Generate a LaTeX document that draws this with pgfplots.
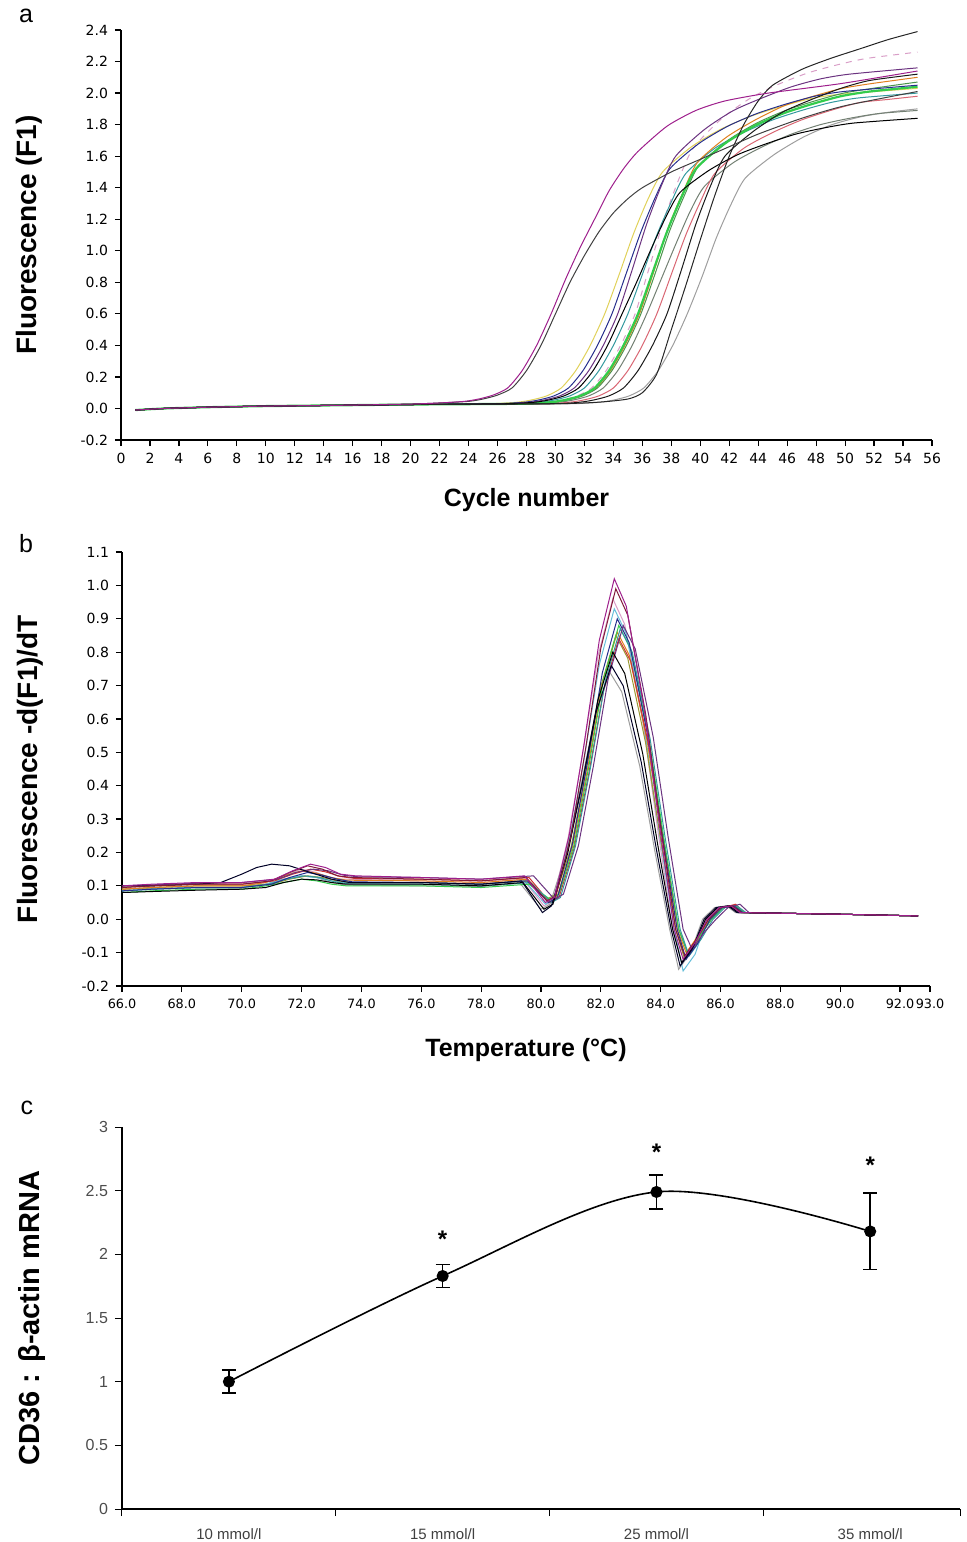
\documentclass[border=0pt]{standalone}
\usepackage{pgfplots}
\pgfplotsset{compat=1.18}
\usepackage{fontspec}
\setmainfont{Liberation Sans}
\newfontfamily\dejavu{DejaVu Sans}
\definecolor{cmag}{rgb}{0.62,0.12,0.55}
\definecolor{cdgray}{rgb}{0.25,0.25,0.25}
\definecolor{cyel}{rgb}{0.88,0.82,0.35}
\definecolor{cdblue}{rgb}{0.15,0.18,0.55}
\definecolor{cpurp}{rgb}{0.42,0.2,0.5}
\definecolor{cteal}{rgb}{0.2,0.6,0.62}
\definecolor{cpink}{rgb}{0.85,0.62,0.78}
\definecolor{cgreen}{rgb}{0.2,0.8,0.3}
\definecolor{cgreen2}{rgb}{0.3,0.58,0.3}
\definecolor{corange}{rgb}{0.88,0.5,0.12}
\definecolor{cgg}{rgb}{0.45,0.5,0.45}
\definecolor{cred}{rgb}{0.85,0.4,0.45}
\definecolor{clgray}{rgb}{0.62,0.62,0.62}
\definecolor{cmaroon}{rgb}{0.5,0.1,0.22}
\definecolor{ccyan}{rgb}{0.4,0.75,0.85}
\definecolor{colive}{rgb}{0.6,0.6,0.2}
\definecolor{cred2}{rgb}{0.8,0.2,0.2}
\pgfplotsset{
  pcr/.style={scale only axis, anchor=south west,
    axis x line=bottom, axis y line=left,
    axis line style={-, line width=0.8pt},
    tick align=outside, major tick length=3pt,
    tick style={black, line width=0.6pt},
    tick label style={font=\dejavu\fontsize{7}{8}\selectfont},
    xlabel style={font=\fontsize{12.5}{14}\selectfont\bfseries, anchor=center},
    ylabel style={font=\fontsize{14}{16}\selectfont\bfseries, anchor=center},
  }
}
\begin{document}
\begin{tikzpicture}[x=1pt,y=1pt]
\path[use as bounding box] (0,0) rectangle (483,-771);
\node[font=\fontsize{12.5}{14}\selectfont] at (13,-8) {a};
\node[font=\fontsize{12.5}{14}\selectfont] at (13,-272) {b};
\node[font=\fontsize{12.5}{14}\selectfont] at (13.5,-554) {c};

% ---------------- panel a ----------------
\begin{axis}[pcr, at={(60.5pt,-220pt)}, width=405.5pt, height=205pt,
  xmin=0, xmax=56, ymin=-0.2, ymax=2.4,
  xtick={0,2,4,6,8,10,12,14,16,18,20,22,24,26,28,30,32,34,36,38,40,42,44,46,48,50,52,54,56},
  xticklabels={0,2,4,6,8,10,12,14,16,18,20,22,24,26,28,30,32,34,36,38,40,42,44,46,48,50,52,54,56},
  ytick={-0.2,0,0.2,0.4,0.6,0.8,1.0,1.2,1.4,1.6,1.8,2.0,2.2,2.4},
  yticklabels={-0.2,0.0,0.2,0.4,0.6,0.8,1.0,1.2,1.4,1.6,1.8,2.0,2.2,2.4},
  xlabel={Cycle number}, xlabel style={at={(axis description cs:0.5,-0.146)}},
  ylabel={Fluorescence (F1)}, ylabel style={at={(axis description cs:-0.1134,0.5)}},
  every axis plot/.append style={line width=0.5pt, smooth, tension=0.4}]
% M14 gray late
\addplot[clgray] coordinates {(1,-0.01)(3,0)(6,0.008)(10,0.015)(15,0.02)(20,0.025)(25,0.028)(31.1,0.03)(33.1,0.04)(34.1,0.055)(35.1,0.08)(36.1,0.13)(37.1,0.24)(38.1,0.40)(39.1,0.60)(40.1,0.83)(41.1,1.08)(42.1,1.29)(43.1,1.46)(45.1,1.61)(47.1,1.72)(49.1,1.80)(51.1,1.85)(53.1,1.88)(55,1.90)};
% M4 pink dashed
\addplot[cpink, dashed] coordinates {(1,-0.01)(3,0)(6,0.008)(10,0.015)(15,0.02)(20,0.025)(27.5,0.03)(29.5,0.04)(30.5,0.055)(31.5,0.08)(32.5,0.13)(33.5,0.24)(34.5,0.40)(35.5,0.60)(36.5,0.90)(37.5,1.20)(38.5,1.45)(39.5,1.65)(41.5,1.84)(43.5,1.97)(45.5,2.06)(47.5,2.13)(49.5,2.18)(51.5,2.22)(55,2.26)};
% M1 yellow
\addplot[cyel] coordinates {(1,-0.01)(3,0)(6,0.008)(10,0.015)(15,0.02)(20,0.025)(25.4,0.03)(27.4,0.04)(28.4,0.055)(29.4,0.08)(30.4,0.13)(31.4,0.24)(32.4,0.40)(33.4,0.60)(34.4,0.85)(35.4,1.11)(36.4,1.33)(37.4,1.50)(39.4,1.66)(41.4,1.77)(43.4,1.85)(45.4,1.91)(47.4,1.96)(49.4,1.99)(55,2.03)};
% M13 gray-green
\addplot[cgg] coordinates {(1,-0.01)(3,0)(6,0.008)(10,0.015)(15,0.02)(20,0.025)(28.3,0.03)(30.3,0.04)(31.3,0.055)(32.3,0.08)(33.3,0.13)(34.3,0.24)(35.3,0.40)(36.3,0.60)(37.3,0.82)(38.3,1.04)(39.3,1.25)(40.3,1.41)(42.3,1.56)(44.3,1.66)(46.3,1.74)(48.3,1.80)(50.3,1.84)(52.3,1.87)(55,1.89)};
% M10 red
\addplot[cred] coordinates {(1,-0.01)(3,0)(6,0.008)(10,0.015)(15,0.02)(20,0.025)(29,0.03)(31,0.04)(32,0.055)(33,0.08)(34,0.13)(35,0.24)(36,0.40)(37,0.60)(38,0.85)(39,1.10)(40,1.31)(41,1.49)(43,1.65)(45,1.75)(47,1.83)(49,1.89)(51,1.94)(53,1.96)(55,1.98)};
% M9 teal
\addplot[cteal] coordinates {(1,-0.01)(3,0)(6,0.008)(10,0.015)(15,0.02)(20,0.025)(27,0.03)(29,0.04)(30,0.055)(31,0.08)(32,0.13)(33,0.24)(34,0.40)(35,0.60)(36,0.85)(37,1.10)(38,1.31)(39,1.49)(41,1.65)(43,1.75)(45,1.83)(47,1.89)(49,1.94)(51,1.97)(55,2.00)};
% M6 orange
\addplot[corange] coordinates {(1,-0.01)(3,0)(6,0.008)(10,0.015)(15,0.02)(20,0.025)(27.8,0.03)(29.8,0.04)(30.8,0.055)(31.8,0.08)(32.8,0.13)(33.8,0.24)(34.8,0.40)(35.8,0.60)(36.8,0.87)(37.8,1.15)(38.8,1.37)(39.8,1.56)(41.8,1.72)(43.8,1.83)(45.8,1.92)(47.8,1.98)(49.8,2.03)(51.8,2.06)(55,2.10)};
% M8 green2
\addplot[cgreen2] coordinates {(1,-0.01)(3,0)(6,0.008)(10,0.015)(15,0.02)(20,0.025)(27.9,0.03)(29.9,0.04)(30.9,0.055)(31.9,0.08)(32.9,0.13)(33.9,0.24)(34.9,0.40)(35.9,0.60)(36.9,0.86)(37.9,1.13)(38.9,1.35)(39.9,1.54)(41.9,1.70)(43.9,1.81)(45.9,1.89)(47.9,1.95)(49.9,2.00)(51.9,2.03)(55,2.07)};
% M7 bright green
\addplot[cgreen, line width=1.1pt] coordinates {(1,-0.01)(3,0)(6,0.008)(10,0.015)(15,0.02)(20,0.025)(27.7,0.03)(29.7,0.04)(30.7,0.055)(31.7,0.08)(32.7,0.13)(33.7,0.24)(34.7,0.40)(35.7,0.60)(36.7,0.86)(37.7,1.12)(38.7,1.34)(39.7,1.52)(41.7,1.68)(43.7,1.79)(45.7,1.87)(47.7,1.93)(49.7,1.98)(51.7,2.01)(55,2.04)};
% M2 dark blue
\addplot[cdblue] coordinates {(1,-0.01)(3,0)(6,0.008)(10,0.015)(15,0.02)(20,0.025)(25.9,0.03)(27.9,0.04)(28.9,0.055)(29.9,0.08)(30.9,0.13)(31.9,0.24)(32.9,0.40)(33.9,0.60)(34.9,0.86)(35.9,1.12)(36.9,1.34)(37.9,1.52)(39.9,1.68)(41.9,1.79)(43.9,1.87)(45.9,1.93)(47.9,1.98)(49.9,2.01)(55,2.05)};
% M5 dark purple
\addplot[cpurp] coordinates {(1,-0.01)(3,0)(6,0.008)(10,0.015)(15,0.02)(20,0.025)(26.3,0.03)(28.3,0.04)(29.3,0.055)(30.3,0.08)(31.3,0.13)(32.3,0.24)(33.3,0.40)(34.3,0.60)(35.3,0.88)(36.3,1.17)(37.3,1.41)(38.3,1.60)(40.3,1.77)(42.3,1.89)(44.3,1.97)(46.3,2.04)(48.3,2.09)(50.3,2.12)(55,2.16)};
% M12 black lower
\addplot[black] coordinates {(1,-0.01)(3,0)(6,0.008)(10,0.015)(15,0.02)(20,0.025)(26.6,0.03)(28.6,0.04)(29.6,0.055)(30.6,0.08)(31.6,0.13)(32.6,0.24)(33.6,0.40)(34.6,0.60)(35.6,0.80)(36.6,1.01)(37.6,1.21)(38.6,1.37)(40.6,1.51)(42.6,1.61)(44.6,1.68)(46.6,1.74)(48.6,1.78)(50.6,1.81)(55,1.84)};
% M11 black
\addplot[black!90] coordinates {(1,-0.01)(3,0)(6,0.008)(10,0.015)(15,0.02)(20,0.025)(29.7,0.03)(31.7,0.04)(32.7,0.055)(33.7,0.08)(34.7,0.13)(35.7,0.24)(36.7,0.40)(37.7,0.60)(38.7,0.88)(39.7,1.17)(40.7,1.41)(41.7,1.60)(43.7,1.76)(45.7,1.88)(47.7,1.96)(49.7,2.03)(51.7,2.08)(55,2.12)};
% M3 top black
\addplot[black!85] coordinates {(1,-0.01)(3,0)(6,0.008)(10,0.015)(15,0.02)(20,0.025)(30,0.03)(33,0.04)(35,0.06)(36,0.10)(37,0.22)(38,0.50)(39,0.78)(40,1.07)(41,1.35)(42,1.60)(43,1.80)(44,1.95)(45,2.05)(47,2.15)(49,2.22)(51,2.28)(53,2.34)(55,2.39)};
% E2 early gray-black
\addplot[cdgray] coordinates {(1,-0.01)(3,0)(6,0.008)(10,0.015)(15,0.02)(20,0.028)(22,0.035)(24,0.045)(25,0.06)(26,0.085)(27,0.13)(28,0.24)(29,0.40)(30,0.60)(31,0.80)(32,0.97)(33,1.12)(34,1.24)(35,1.33)(36,1.40)(38,1.50)(40,1.58)(42,1.66)(44,1.74)(47,1.84)(50,1.92)(55,2.01)};
% E1 early magenta
\addplot[cmag] coordinates {(1,-0.01)(3,0)(6,0.008)(10,0.015)(15,0.02)(20,0.028)(22,0.035)(23.7,0.045)(24.7,0.06)(25.7,0.085)(26.7,0.13)(27.7,0.24)(28.7,0.40)(29.7,0.60)(30.7,0.82)(31.7,1.02)(32.7,1.20)(33.7,1.38)(34.7,1.52)(35.7,1.63)(37.7,1.79)(39.7,1.89)(41.7,1.95)(44.7,2.00)(49.7,2.06)(55,2.14)};
\end{axis}

% ---------------- panel b ----------------
\begin{axis}[pcr, at={(61pt,-493pt)}, width=404pt, height=217pt,
  xmin=66, xmax=93, ymin=-0.2, ymax=1.1,
  xtick={66,68,70,72,74,76,78,80,82,84,86,88,90,92,93},
  xticklabels={66.0,68.0,70.0,72.0,74.0,76.0,78.0,80.0,82.0,84.0,86.0,88.0,90.0,92.0,93.0},
  xticklabel style={font=\dejavu\fontsize{6.4}{7}\selectfont},
  ytick={-0.2,-0.1,0,0.1,0.2,0.3,0.4,0.5,0.6,0.7,0.8,0.9,1.0,1.1},
  yticklabels={-0.2,-0.1,0.0,0.1,0.2,0.3,0.4,0.5,0.6,0.7,0.8,0.9,1.0,1.1},
  xlabel={Temperature (°C)}, xlabel style={at={(axis description cs:0.5,-0.1475)}},
  ylabel={Fluorescence -d(F1)/dT}, ylabel style={at={(axis description cs:-0.1139,0.5)}},
  every axis plot/.append style={line width=0.5pt}]
% B3 light pink
\addplot[cpink] coordinates {(66,0.09)(67,0.095)(68.5,0.10)(70,0.10)(70.8,0.11)(71.4,0.13)(72.0,0.15)(72.5,0.14)(73.0,0.12)(73.5,0.12)(76,0.115)(78,0.11)(79.4,0.12)(80.1,0.04)(80.4,0.055)(80.9,0.24)(81.4,0.499)(81.9,0.787)(82.4,0.96)(82.8,0.883)(83.4,0.595)(83.9,0.269)(84.4,-0.03)(84.7,-0.13)(85.1,-0.08)(85.5,0.0)(85.9,0.035)(86.3,0.04)(86.6,0.02)(88,0.018)(90,0.015)(92.6,0.01)};
% B13 gray
\addplot[clgray] coordinates {(66,0.09)(67,0.092)(68.5,0.095)(70,0.095)(70.8,0.105)(71.4,0.12)(72.0,0.13)(72.5,0.125)(73.0,0.11)(73.5,0.102)(76,0.10)(78,0.098)(79.3,0.108)(80.0,0.03)(80.3,0.045)(80.8,0.185)(81.3,0.385)(81.8,0.607)(82.3,0.74)(82.7,0.681)(83.3,0.459)(83.8,0.207)(84.3,-0.03)(84.6,-0.15)(85.0,-0.10)(85.4,0.0)(85.8,0.035)(86.2,0.04)(86.5,0.02)(88,0.018)(90,0.015)(92.6,0.01)};
% B4 cyan
\addplot[ccyan] coordinates {(66,0.085)(67,0.09)(68.5,0.095)(70,0.095)(70.8,0.105)(71.4,0.12)(72.0,0.13)(72.5,0.125)(73.0,0.115)(73.5,0.11)(76,0.11)(78,0.105)(79.45,0.115)(80.15,0.045)(80.45,0.06)(80.95,0.233)(81.45,0.484)(81.95,0.763)(82.45,0.93)(82.85,0.856)(83.45,0.577)(83.95,0.26)(84.45,-0.03)(84.75,-0.155)(85.15,-0.105)(85.55,0.0)(85.95,0.035)(86.35,0.04)(86.65,0.02)(88,0.018)(90,0.015)(92.6,0.01)};
% B9 olive
\addplot[colive] coordinates {(66,0.09)(67,0.095)(68.5,0.10)(70,0.10)(71.0,0.105)(71.6,0.12)(72.2,0.13)(72.7,0.125)(73.2,0.115)(73.7,0.11)(76,0.11)(78,0.105)(79.5,0.115)(80.2,0.06)(80.5,0.075)(81.0,0.213)(81.5,0.442)(82.0,0.697)(82.5,0.85)(82.9,0.782)(83.5,0.527)(84.0,0.238)(84.5,-0.03)(84.8,-0.12)(85.2,-0.07)(85.6,0.0)(86.0,0.035)(86.4,0.04)(86.7,0.02)(88,0.018)(90,0.015)(92.6,0.01)};
% B8 orange
\addplot[corange] coordinates {(66,0.09)(67,0.095)(68.5,0.10)(70,0.10)(70.8,0.11)(71.4,0.13)(72.0,0.145)(72.5,0.138)(73.0,0.125)(73.5,0.117)(76,0.115)(78,0.11)(79.55,0.12)(80.25,0.055)(80.55,0.07)(81.05,0.215)(81.55,0.447)(82.05,0.705)(82.55,0.86)(82.95,0.791)(83.55,0.533)(84.05,0.241)(84.55,-0.03)(84.85,-0.10)(85.25,-0.05)(85.65,0.0)(86.05,0.035)(86.45,0.04)(86.75,0.02)(88,0.018)(90,0.015)(92.6,0.01)};
% B10 red
\addplot[cred2] coordinates {(66,0.095)(67,0.10)(68.5,0.105)(70,0.105)(71.1,0.115)(71.7,0.135)(72.3,0.15)(72.8,0.142)(73.3,0.128)(73.8,0.122)(76,0.12)(78,0.115)(79.6,0.125)(80.3,0.05)(80.6,0.065)(81.1,0.21)(81.6,0.437)(82.1,0.689)(82.6,0.84)(83.0,0.773)(83.6,0.521)(84.1,0.235)(84.6,-0.03)(84.9,-0.10)(85.3,-0.05)(85.7,0.0)(86.1,0.035)(86.5,0.045)(86.8,0.02)(88,0.018)(90,0.015)(92.6,0.01)};
% B6 green
\addplot[cgreen] coordinates {(66,0.08)(67,0.085)(68.5,0.09)(70,0.09)(70.8,0.10)(71.4,0.11)(72.0,0.12)(72.5,0.115)(73.0,0.105)(73.5,0.10)(76,0.10)(78,0.095)(79.6,0.105)(80.3,0.06)(80.6,0.075)(81.1,0.22)(81.6,0.458)(82.1,0.722)(82.6,0.88)(83.0,0.81)(83.6,0.546)(84.1,0.246)(84.6,-0.03)(84.9,-0.10)(85.3,-0.05)(85.7,0.0)(86.1,0.035)(86.5,0.04)(86.8,0.02)(88,0.018)(90,0.015)(92.6,0.01)};
% B7 teal
\addplot[cteal] coordinates {(66,0.085)(67,0.09)(68.5,0.095)(70,0.095)(70.9,0.105)(71.5,0.12)(72.1,0.13)(72.6,0.125)(73.1,0.112)(73.6,0.106)(76,0.105)(78,0.10)(79.65,0.11)(80.35,0.05)(80.65,0.065)(81.15,0.218)(81.65,0.452)(82.15,0.713)(82.65,0.87)(83.05,0.80)(83.65,0.539)(84.15,0.244)(84.65,-0.03)(84.95,-0.11)(85.35,-0.06)(85.75,0.0)(86.15,0.035)(86.55,0.04)(86.85,0.02)(88,0.018)(90,0.015)(92.6,0.01)};
% B5 blue
\addplot[cdblue] coordinates {(66,0.085)(67,0.09)(68.5,0.095)(70,0.095)(71.0,0.105)(71.6,0.125)(72.2,0.14)(72.7,0.132)(73.2,0.12)(73.7,0.112)(76,0.11)(78,0.105)(79.55,0.115)(80.25,0.05)(80.55,0.065)(81.05,0.225)(81.55,0.468)(82.05,0.738)(82.55,0.90)(82.95,0.828)(83.55,0.558)(84.05,0.252)(84.55,-0.03)(84.85,-0.12)(85.25,-0.07)(85.65,0.0)(86.05,0.035)(86.45,0.04)(86.75,0.02)(88,0.018)(90,0.015)(92.6,0.01)};
% B14 purple
\addplot[cpurp] coordinates {(66,0.10)(67,0.103)(68.5,0.108)(70,0.11)(71.2,0.12)(71.8,0.14)(72.4,0.15)(72.9,0.145)(73.4,0.132)(73.9,0.127)(76,0.125)(78,0.12)(79.75,0.13)(80.45,0.06)(80.75,0.075)(81.25,0.22)(81.75,0.458)(82.25,0.722)(82.75,0.88)(83.15,0.81)(83.75,0.546)(84.25,0.246)(84.75,-0.03)(85.05,-0.09)(85.45,-0.04)(85.85,0.0)(86.25,0.035)(86.65,0.045)(86.95,0.02)(88,0.018)(90,0.015)(92.6,0.01)};
% B11 black
\addplot[black] coordinates {(66,0.08)(67,0.083)(68.5,0.087)(70,0.09)(70.8,0.095)(71.4,0.11)(72.0,0.12)(72.5,0.118)(73.0,0.11)(73.5,0.105)(76,0.105)(78,0.10)(79.4,0.11)(80.1,0.03)(80.4,0.045)(80.9,0.20)(81.4,0.416)(81.9,0.656)(82.4,0.80)(82.8,0.736)(83.4,0.496)(83.9,0.224)(84.4,-0.03)(84.7,-0.13)(85.1,-0.08)(85.5,0.0)(85.9,0.035)(86.3,0.04)(86.6,0.02)(88,0.018)(90,0.015)(92.6,0.01)};
% B12 black2
\addplot[black!85!blue] coordinates {(66,0.10)(67,0.10)(68.5,0.105)(69.3,0.11)(70.0,0.135)(70.5,0.155)(71.0,0.165)(71.6,0.16)(72.3,0.14)(73.0,0.12)(73.6,0.11)(76,0.11)(78,0.105)(79.35,0.115)(80.05,0.02)(80.35,0.04)(80.85,0.19)(81.35,0.395)(81.85,0.623)(82.35,0.76)(82.75,0.699)(83.35,0.471)(83.85,0.213)(84.35,-0.03)(84.65,-0.14)(85.05,-0.09)(85.45,0.0)(85.85,0.035)(86.25,0.04)(86.55,0.02)(88,0.018)(90,0.015)(92.6,0.01)};
% B2 maroon
\addplot[cmaroon] coordinates {(66,0.095)(67,0.10)(68.5,0.105)(70,0.105)(71.0,0.115)(71.6,0.14)(72.2,0.16)(72.7,0.15)(73.2,0.13)(73.7,0.125)(76,0.12)(78,0.115)(79.5,0.125)(80.2,0.055)(80.5,0.07)(81.0,0.248)(81.5,0.515)(82.0,0.812)(82.5,0.99)(82.9,0.911)(83.5,0.614)(84.0,0.277)(84.5,-0.03)(84.8,-0.11)(85.2,-0.06)(85.6,0.0)(86.0,0.035)(86.4,0.04)(86.7,0.02)(88,0.018)(90,0.015)(92.6,0.01)};
% B1 magenta
\addplot[cmag] coordinates {(66,0.10)(67,0.105)(68.5,0.11)(70,0.11)(71.1,0.12)(71.7,0.145)(72.3,0.165)(72.8,0.155)(73.3,0.135)(73.8,0.13)(76,0.125)(78,0.12)(79.45,0.13)(80.15,0.05)(80.45,0.065)(80.95,0.255)(81.45,0.53)(81.95,0.836)(82.45,1.02)(82.85,0.938)(83.45,0.632)(83.95,0.286)(84.45,-0.03)(84.75,-0.12)(85.15,-0.07)(85.55,0.0)(85.95,0.035)(86.35,0.04)(86.65,0.02)(88,0.018)(90,0.015)(92.6,0.01)};
\end{axis}

% ---------------- panel c ----------------
\begin{axis}[scale only axis, anchor=south west, at={(61pt,-754.5pt)}, width=419pt, height=191pt,
  xmin=0, xmax=3.92, ymin=0, ymax=3,
  axis x line=bottom, axis y line=left,
  x axis line style={-, line width=1.1pt}, y axis line style={-, line width=0.6pt},
  tick align=outside, major tick length=3.5pt, tick style={black, line width=0.5pt},
  xtick={0,1,2,3,3.92}, xticklabels={,,,,},
  ytick={0,0.5,1,1.5,2,2.5,3}, yticklabels={0,0.5,1,1.5,2,2.5,3},
  yticklabel style={font=\fontsize{8}{9}\selectfont, text=black!70},
  extra x ticks={0.5,1.5,2.5,3.5},
  extra x tick labels={10 mmol/l,15 mmol/l,25 mmol/l,35 mmol/l},
  extra x tick style={tick style={draw=none}, tick label style={font=\fontsize{7.5}{8}\selectfont, text=black!75, yshift=-3pt}},
  ylabel={CD36 : β-actin mRNA},
  ylabel style={font=\fontsize{14.5}{16}\selectfont\bfseries, anchor=center, at={(axis description cs:-0.1074,0.5)}}]
\addplot[black, line width=0.8pt, smooth, tension=0.55, mark=*, mark size=2.6pt,
  error bars/.cd, y dir=both, y explicit,
  error bar style={line width=0.8pt, black},
  error mark options={rotate=90, mark size=3.5pt, line width=0.8pt, black}]
  coordinates {(0.5,1.00) +- (0,0.09) (1.5,1.83) +- (0,0.09) (2.5,2.49) +- (0,0.135) (3.5,2.18) +- (0,0.30)};
\addplot[draw=none, mark=none, nodes near coords={\bfseries *}, nodes near coords align={center},
  every node near coord/.append style={font=\fontsize{12}{12}\selectfont, anchor=center}]
  coordinates {(1.5,2.12) (2.5,2.80) (3.5,2.70)};
\end{axis}
\end{tikzpicture}
\end{document}
